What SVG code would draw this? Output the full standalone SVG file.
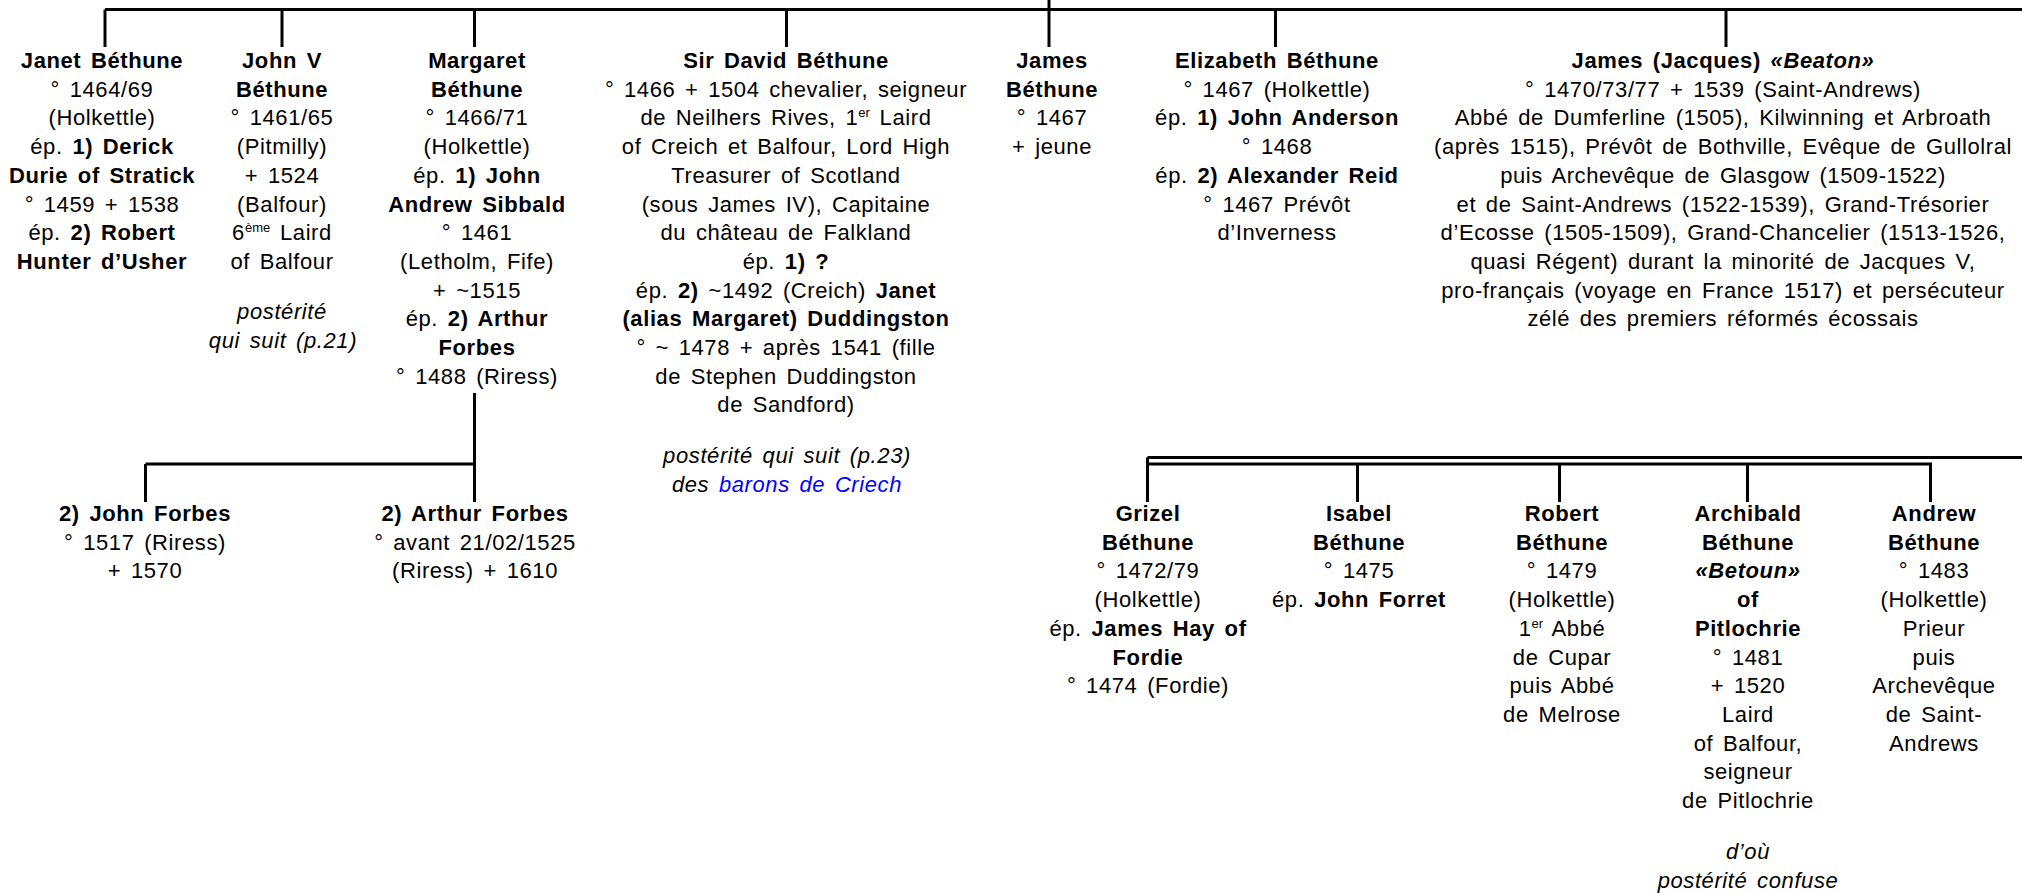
<svg xmlns="http://www.w3.org/2000/svg" width="2022" height="893" viewBox="0 0 2022 893">
<style>
text { font-family: "Liberation Sans", Arial, sans-serif; font-size: 22px; letter-spacing: 0.6px; word-spacing: 3px; text-anchor: middle; fill: #000; }
.b { font-weight: bold; }
.i { font-style: italic; }
.bi { font-weight: bold; font-style: italic; }
.lnk { fill: #0000ff; }
.sup { font-size: 13px; letter-spacing: 0; }
.conn { stroke: #000; stroke-width: 3; fill: none; }
</style>
<rect width="2022" height="893" fill="#fff"/>
<g id="connectors">
  <path class="conn" d="M105 9.5 H2022"/>
  <path class="conn" d="M105 9.5 V47"/>
  <path class="conn" d="M282 9.5 V47"/>
  <path class="conn" d="M474.5 9.5 V47"/>
  <path class="conn" d="M786.5 9.5 V47"/>
  <path class="conn" d="M1049 0 V47"/>
  <path class="conn" d="M1275.5 9.5 V47"/>
  <path class="conn" d="M1726 9.5 V47"/>
  <path class="conn" d="M474.5 393 V502"/>
  <path class="conn" d="M145.5 464 H474.5"/>
  <path class="conn" d="M145.5 464 V502"/>
  <path class="conn" d="M1147.5 457.5 H2022"/>
  <path class="conn" d="M1147.5 457.5 V502"/>
  <path class="conn" d="M1147.5 464 H1930.5 V502"/>
  <path class="conn" d="M1357.5 464 V502"/>
  <path class="conn" d="M1559.5 464 V502"/>
  <path class="conn" d="M1747.5 464 V502"/>
</g>
<g id="janet">
  <text x="102" y="68" class="b">Janet Béthune</text>
  <text x="102" y="96.7">° 1464/69</text>
  <text x="102" y="125.4">(Holkettle)</text>
  <text x="102" y="154.1">ép. <tspan class="b">1) Derick</tspan></text>
  <text x="102" y="182.8" class="b">Durie of Stratick</text>
  <text x="102" y="211.5">° 1459 + 1538</text>
  <text x="102" y="240.2">ép. <tspan class="b">2) Robert</tspan></text>
  <text x="102" y="268.9" class="b">Hunter d’Usher</text>
</g>
<g id="johnv">
  <text x="282" y="68" class="b">John V</text>
  <text x="282" y="96.7" class="b">Béthune</text>
  <text x="282" y="125.4">° 1461/65</text>
  <text x="282" y="154.1">(Pitmilly)</text>
  <text x="282" y="182.8">+ 1524</text>
  <text x="282" y="211.5">(Balfour)</text>
  <text x="282" y="240.2">6<tspan class="sup" dy="-8">ème</tspan><tspan dy="8"> Laird</tspan></text>
  <text x="282" y="268.9">of Balfour</text>
  <text x="282" y="319" class="i">postérité</text>
  <text x="283" y="348" class="i">qui suit (p.21)</text>
</g>
<g id="margaret">
  <text x="477" y="68" class="b">Margaret</text>
  <text x="477" y="96.7" class="b">Béthune</text>
  <text x="477" y="125.4">° 1466/71</text>
  <text x="477" y="154.1">(Holkettle)</text>
  <text x="477" y="182.8">ép. <tspan class="b">1) John</tspan></text>
  <text x="477" y="211.5" class="b">Andrew Sibbald</text>
  <text x="477" y="240.2">° 1461</text>
  <text x="477" y="268.9">(Letholm, Fife)</text>
  <text x="477" y="297.6">+ ~1515</text>
  <text x="477" y="326.3">ép. <tspan class="b">2) Arthur</tspan></text>
  <text x="477" y="355" class="b">Forbes</text>
  <text x="477" y="383.7">° 1488 (Riress)</text>
</g>
<g id="johnforbes">
  <text x="145" y="521" class="b">2) John Forbes</text>
  <text x="145" y="549.7">° 1517 (Riress)</text>
  <text x="145" y="578.4">+ 1570</text>
</g>
<g id="arthurforbes">
  <text x="475" y="521" class="b">2) Arthur Forbes</text>
  <text x="475" y="549.7">° avant 21/02/1525</text>
  <text x="475" y="578.4">(Riress) + 1610</text>
</g>
<g id="david">
  <text x="786" y="68" class="b">Sir David Béthune</text>
  <text x="786" y="96.7">° 1466 + 1504 chevalier, seigneur</text>
  <text x="786" y="125.4">de Neilhers Rives, 1<tspan class="sup" dy="-8">er</tspan><tspan dy="8"> Laird</tspan></text>
  <text x="786" y="154.1">of Creich et Balfour, Lord High</text>
  <text x="786" y="182.8">Treasurer of Scotland</text>
  <text x="786" y="211.5">(sous James IV), Capitaine</text>
  <text x="786" y="240.2">du château de Falkland</text>
  <text x="786" y="268.9">ép. <tspan class="b">1) ?</tspan></text>
  <text x="786" y="297.6">ép. <tspan class="b">2)</tspan> ~1492 (Creich) <tspan class="b">Janet</tspan></text>
  <text x="786" y="326.3" class="b">(alias Margaret) Duddingston</text>
  <text x="786" y="355">° ~ 1478 + après 1541 (fille</text>
  <text x="786" y="383.7">de Stephen Duddingston</text>
  <text x="786" y="412.4">de Sandford)</text>
  <text x="787" y="463" class="i">postérité qui suit (p.23)</text>
  <text x="787" y="492" class="i">des <tspan class="lnk">barons de Criech</tspan></text>
</g>
<g id="james">
  <text x="1052" y="68" class="b">James</text>
  <text x="1052" y="96.7" class="b">Béthune</text>
  <text x="1052" y="125.4">° 1467</text>
  <text x="1052" y="154.1">+ jeune</text>
</g>
<g id="elizabeth">
  <text x="1277" y="68" class="b">Elizabeth Béthune</text>
  <text x="1277" y="96.7">° 1467 (Holkettle)</text>
  <text x="1277" y="125.4">ép. <tspan class="b">1) John Anderson</tspan></text>
  <text x="1277" y="154.1">° 1468</text>
  <text x="1277" y="182.8">ép. <tspan class="b">2) Alexander Reid</tspan></text>
  <text x="1277" y="211.5">° 1467 Prévôt</text>
  <text x="1277" y="240.2">d’Inverness</text>
</g>
<g id="jamesjacques">
  <text x="1723" y="68" class="b">James (Jacques) <tspan class="bi">«Beaton»</tspan></text>
  <text x="1723" y="96.7">° 1470/73/77 + 1539 (Saint-Andrews)</text>
  <text x="1723" y="125.4">Abbé de Dumferline (1505), Kilwinning et Arbroath</text>
  <text x="1723" y="154.1">(après 1515), Prévôt de Bothville, Evêque de Gullolral</text>
  <text x="1723" y="182.8">puis Archevêque de Glasgow (1509-1522)</text>
  <text x="1723" y="211.5">et de Saint-Andrews (1522-1539), Grand-Trésorier</text>
  <text x="1723" y="240.2">d’Ecosse (1505-1509), Grand-Chancelier (1513-1526,</text>
  <text x="1723" y="268.9">quasi Régent) durant la minorité de Jacques V,</text>
  <text x="1723" y="297.6">pro-français (voyage en France 1517) et persécuteur</text>
  <text x="1723" y="326.3">zélé des premiers réformés écossais</text>
</g>
<g id="grizel">
  <text x="1148" y="521" class="b">Grizel</text>
  <text x="1148" y="549.7" class="b">Béthune</text>
  <text x="1148" y="578.4">° 1472/79</text>
  <text x="1148" y="607.1">(Holkettle)</text>
  <text x="1148" y="635.8">ép. <tspan class="b">James Hay of</tspan></text>
  <text x="1148" y="664.5" class="b">Fordie</text>
  <text x="1148" y="693.2">° 1474 (Fordie)</text>
</g>
<g id="isabel">
  <text x="1359" y="521" class="b">Isabel</text>
  <text x="1359" y="549.7" class="b">Béthune</text>
  <text x="1359" y="578.4">° 1475</text>
  <text x="1359" y="607.1">ép. <tspan class="b">John Forret</tspan></text>
</g>
<g id="robert">
  <text x="1562" y="521" class="b">Robert</text>
  <text x="1562" y="549.7" class="b">Béthune</text>
  <text x="1562" y="578.4">° 1479</text>
  <text x="1562" y="607.1">(Holkettle)</text>
  <text x="1562" y="635.8">1<tspan class="sup" dy="-8">er</tspan><tspan dy="8"> Abbé</tspan></text>
  <text x="1562" y="664.5">de Cupar</text>
  <text x="1562" y="693.2">puis Abbé</text>
  <text x="1562" y="721.9">de Melrose</text>
</g>
<g id="archibald">
  <text x="1748" y="521" class="b">Archibald</text>
  <text x="1748" y="549.7" class="b">Béthune</text>
  <text x="1748" y="578.4" class="bi">«Betoun»</text>
  <text x="1748" y="607.1" class="b">of</text>
  <text x="1748" y="635.8" class="b">Pitlochrie</text>
  <text x="1748" y="664.5">° 1481</text>
  <text x="1748" y="693.2">+ 1520</text>
  <text x="1748" y="721.9">Laird</text>
  <text x="1748" y="750.6">of Balfour,</text>
  <text x="1748" y="779.3">seigneur</text>
  <text x="1748" y="808">de Pitlochrie</text>
  <text x="1748" y="859" class="i">d’où</text>
  <text x="1748" y="888" class="i">postérité confuse</text>
</g>
<g id="andrew">
  <text x="1934" y="521" class="b">Andrew</text>
  <text x="1934" y="549.7" class="b">Béthune</text>
  <text x="1934" y="578.4">° 1483</text>
  <text x="1934" y="607.1">(Holkettle)</text>
  <text x="1934" y="635.8">Prieur</text>
  <text x="1934" y="664.5">puis</text>
  <text x="1934" y="693.2">Archevêque</text>
  <text x="1934" y="721.9">de Saint-</text>
  <text x="1934" y="750.6">Andrews</text>
</g>
</svg>
